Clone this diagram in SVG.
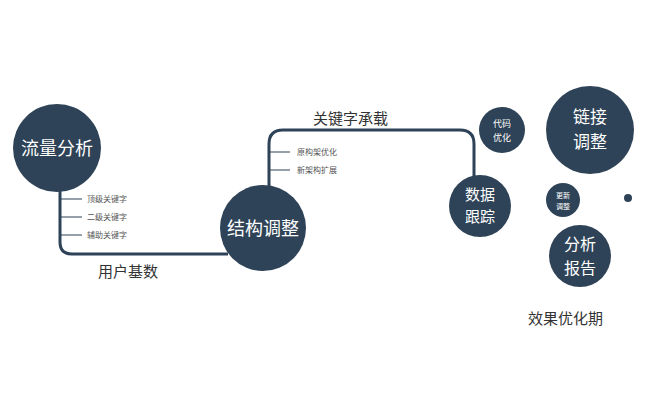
<svg xmlns="http://www.w3.org/2000/svg" width="648" height="400" viewBox="0 0 648 400">
<style>
.n{fill:#2e4357}
.t{fill:#fff;font-family:"Noto Sans CJK SC",sans-serif;text-anchor:middle}
.l{fill:#333;font-family:"Noto Sans CJK SC",sans-serif}
.s{fill:#555;font-family:"Noto Sans CJK SC",sans-serif;font-size:8px}
.c{fill:none;stroke:#2e4357;stroke-width:3}
.k{fill:none;stroke:#2e4357;stroke-width:1.2}
</style>
<rect width="648" height="400" fill="#fff"/>
<g id="connectors">
<path class="c" d="M60 190 V242 Q60 254 72 254 H228"/>
<path class="c" d="M269 190 V144 Q269 130 283 130 H460 Q474 130 474 144 V180"/>
<path class="k" d="M60 199 H82 M60 217 H82 M60 235 H82 M269 152 H290 M269 170 H290"/>
</g>
<g id="labels">
<text class="s" x="87" y="202">顶级关键字</text>
<text class="s" x="87" y="220">二级关键字</text>
<text class="s" x="87" y="238">辅助关键字</text>
<text class="s" x="297" y="155">原构架优化</text>
<text class="s" x="297" y="173">新架构扩展</text>
<text class="l" x="98" y="277" font-size="15">用户基数</text>
<text class="l" x="313" y="124" font-size="15">关键字承载</text>
<text class="l" x="528" y="324" font-size="15">效果优化期</text>
</g>
<g id="n1"><circle class="n" cx="57" cy="148" r="44"/><text class="t" x="57" y="155" font-size="18">流量分析</text></g>
<g id="n2"><circle class="n" cx="263" cy="228" r="43"/><text class="t" x="263" y="235" font-size="18">结构调整</text></g>
<g id="n3"><circle class="n" cx="480" cy="206" r="31"/><text class="t" x="480" y="200" font-size="15">数据</text><text class="t" x="480" y="222" font-size="15">跟踪</text></g>
<g id="n4"><circle class="n" cx="502" cy="130" r="23"/><text class="t" x="502" y="127" font-size="9">代码</text><text class="t" x="502" y="141" font-size="9">优化</text></g>
<g id="n5"><circle class="n" cx="590" cy="130" r="44"/><text class="t" x="590" y="123" font-size="17">链接</text><text class="t" x="590" y="148" font-size="17">调整</text></g>
<g id="n6"><circle class="n" cx="563" cy="200" r="17"/><text class="t" x="563" y="198" font-size="7">更新</text><text class="t" x="563" y="209" font-size="7">调整</text></g>
<g id="n7"><circle class="n" cx="628" cy="198" r="4"/></g>
<g id="n8"><circle class="n" cx="580" cy="256" r="31"/><text class="t" x="580" y="250" font-size="16">分析</text><text class="t" x="580" y="274" font-size="16">报告</text></g>
</svg>
